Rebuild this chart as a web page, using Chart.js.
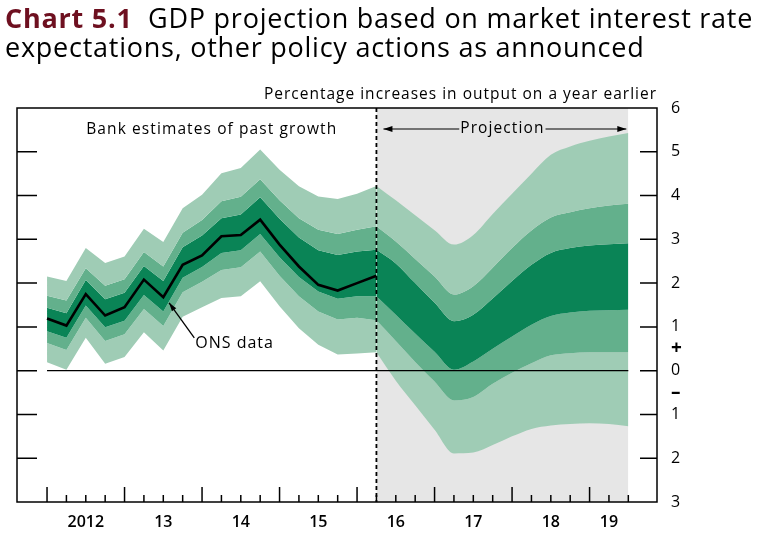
<!DOCTYPE html>
<html>
<head>
<meta charset="utf-8">
<script src="https://cdn.jsdelivr.net/npm/chart.js@4.4.1/dist/chart.umd.min.js"></script>
<style>
  body { margin: 0; background: #fff; }
  #wrap { position: relative; width: 780px; height: 534px; font-family: "Open Sans", sans-serif; }
  #title { position: absolute; left: 5px; top: 3px; font-size: 27px; line-height: 29px; letter-spacing: 0.75px; color: #000; white-space: nowrap; }
  #title b { color: #6e1020; }
  canvas { position: absolute; left: 0; top: 0; }
</style>
</head>
<body>
<div id="wrap">
  <canvas id="fanChart" width="780" height="534"></canvas>
  <div id="title"><b>Chart 5.1</b>&nbsp; GDP projection based on market interest rate<br>expectations, other policy actions as announced</div>
</div>
<script>
// Quarterly positions: 0 = 2012 Q1, one step per quarter
const onsData    = [1.19, 1.03, 1.75, 1.26, 1.45, 2.08, 1.68, 2.42, 2.63, 3.07, 3.10, 3.45, 2.88, 2.38, 1.96, 1.83, 2.00, 2.17];

// Bank estimates of past growth (fan band edges)
const pastTop    = [2.15, 2.05, 2.80, 2.46, 2.61, 3.24, 2.94, 3.71, 4.02, 4.51, 4.63, 5.05, 4.59, 4.21, 3.98, 3.92, 4.04, 4.22];
const pastUpper2 = [1.71, 1.60, 2.34, 1.94, 2.09, 2.71, 2.38, 3.15, 3.44, 3.87, 3.97, 4.37, 3.89, 3.48, 3.22, 3.12, 3.22, 3.30];
const pastUpper1 = [1.44, 1.31, 2.07, 1.63, 1.78, 2.39, 2.05, 2.82, 3.09, 3.48, 3.57, 3.96, 3.47, 3.04, 2.75, 2.64, 2.72, 2.76];
const pastLower1 = [0.90, 0.75, 1.49, 0.99, 1.14, 1.73, 1.35, 2.12, 2.37, 2.69, 2.75, 3.12, 2.59, 2.14, 1.81, 1.64, 1.70, 1.70];
const pastLower2 = [0.63, 0.47, 1.21, 0.68, 0.83, 1.41, 1.02, 1.79, 2.03, 2.30, 2.36, 2.72, 2.17, 1.70, 1.35, 1.17, 1.21, 1.15];
const pastBottom = [0.19, 0.02, 0.75, 0.16, 0.31, 0.88, 0.46, 1.23, 1.45, 1.66, 1.70, 2.04, 1.47, 0.97, 0.59, 0.37, 0.39, 0.42];

// Projection fan (starts at last ONS quarter)
const projTop    = [4.22, 3.89, 3.55, 3.21, 2.88, 3.10, 3.58, 4.04, 4.50, 4.93, 5.12, 5.25, 5.35, 5.43];
const projUpper2 = [3.30, 2.95, 2.55, 2.15, 1.74, 1.93, 2.35, 2.80, 3.20, 3.50, 3.62, 3.71, 3.77, 3.81];
const projUpper1 = [2.76, 2.45, 2.00, 1.55, 1.13, 1.28, 1.65, 2.05, 2.42, 2.69, 2.80, 2.86, 2.89, 2.91];
const projLower1 = [1.70, 1.28, 0.85, 0.43, 0.02, 0.21, 0.50, 0.78, 1.05, 1.25, 1.33, 1.37, 1.38, 1.39];
const projLower2 = [1.15, 0.68, 0.20, -0.25, -0.68, -0.60, -0.30, -0.05, 0.17, 0.35, 0.40, 0.42, 0.42, 0.42];
const projBottom = [0.42, -0.23, -0.79, -1.35, -1.89, -1.87, -1.70, -1.50, -1.33, -1.25, -1.22, -1.20, -1.22, -1.27];

// Axis labels
const yearLabels   = ['2012', '13', '14', '15', '16', '17', '18', '19'];
const yearLabelPos = [2, 6, 10, 14, 18, 22, 26, 29];
const yLabelValues = [6, 5, 4, 3, 2, 1, 0.5, 0, -0.5, -1, -2, -3];
const yLabelText   = ['6', '5', '4', '3', '2', '1', '+', '0', '\u2013', '1', '2', '3'];
const yTickMarks   = [5, 4, 3, 2, 1, 0, -1, -2];

const projectionStart = onsData.length - 1;
const lastQuarter = projectionStart + projTop.length - 1;

const LIGHT = '#9fccb5';
const MEDIUM = '#63b08c';
const DARK = '#0a8456';
const FONT = '"Open Sans", sans-serif';

const toPoints = (vals, start) => vals.map((v, i) => ({ x: start + i, y: v }));

function band(vals, start, color, smooth) {
    return {
        data: toPoints(vals, start),
        borderWidth: 0,
        pointRadius: 0,
        fill: color ? '+1' : false,
        backgroundColor: color || 'transparent',
        cubicInterpolationMode: smooth ? 'monotone' : 'default',
        order: 5
    };
}

const decorPlugin = {
    id: 'decor',
    afterDatasetsDraw(chart) {
        const { ctx, chartArea: a, scales: { x, y } } = chart;
        ctx.save();
        ctx.strokeStyle = '#000';
        ctx.fillStyle = '#000';

        // zero line
        ctx.lineWidth = 1.3;
        ctx.beginPath();
        ctx.moveTo(x.getPixelForValue(0), y.getPixelForValue(0));
        ctx.lineTo(x.getPixelForValue(lastQuarter), y.getPixelForValue(0));
        ctx.stroke();

        // projection divider
        const px = x.getPixelForValue(projectionStart);
        ctx.setLineDash([4, 3]);
        ctx.lineWidth = 1.8;
        ctx.beginPath();
        ctx.moveTo(px, a.top);
        ctx.lineTo(px, a.bottom);
        ctx.stroke();
        ctx.setLineDash([]);

        // frame
        ctx.lineWidth = 1.5;
        ctx.strokeRect(a.left, a.top, a.width, a.height);

        // y tick marks, inward on both sides
        yTickMarks.forEach(v => {
            const py = y.getPixelForValue(v);
            ctx.beginPath();
            ctx.moveTo(a.left, py); ctx.lineTo(a.left + 20, py);
            ctx.moveTo(a.right - 17, py); ctx.lineTo(a.right, py);
            ctx.stroke();
        });

        // quarterly x ticks, longer at year starts
        for (let q = 0; q <= lastQuarter; q++) {
            const qx = x.getPixelForValue(q);
            const len = q % 4 === 0 ? 15 : 7;
            ctx.beginPath();
            ctx.moveTo(qx, a.bottom); ctx.lineTo(qx, a.bottom - len);
            ctx.stroke();
        }

        // texts
        ctx.textBaseline = 'alphabetic';
        ctx.font = '15.5px ' + FONT;
        ctx.letterSpacing = '1px';
        ctx.textAlign = 'right';
        ctx.fillText('Percentage increases in output on a year earlier', a.right, a.top - 9);

        ctx.font = '15.5px ' + FONT;
        ctx.letterSpacing = '1.1px';
        ctx.textAlign = 'center';
        ctx.fillText('Bank estimates of past growth', x.getPixelForValue(8.5), a.top + 26);

        // projection arrow
        const ay = a.top + 21;
        const label = 'Projection';
        const cx = x.getPixelForValue(23.5);
        const half = ctx.measureText(label).width / 2 + 1;
        ctx.textBaseline = 'middle';
        ctx.fillText(label, cx, ay);
        const x0 = px + 7, x1 = x.getPixelForValue(lastQuarter) - 2;
        ctx.lineWidth = 1.2;
        ctx.beginPath();
        ctx.moveTo(x0, ay); ctx.lineTo(cx - half, ay);
        ctx.moveTo(cx + half, ay); ctx.lineTo(x1, ay);
        ctx.stroke();
        [[x0, 1], [x1, -1]].forEach(([hx, d]) => {
            ctx.beginPath();
            ctx.moveTo(hx, ay);
            ctx.lineTo(hx + 9 * d, ay - 3);
            ctx.lineTo(hx + 9 * d, ay + 3);
            ctx.closePath();
            ctx.fill();
        });

        // ONS data label with arrow
        ctx.textBaseline = 'alphabetic';
        ctx.textAlign = 'left';
        ctx.font = '16px ' + FONT;
        ctx.letterSpacing = '1px';
        ctx.fillText('ONS data', x.getPixelForValue(7.65), y.getPixelForValue(0.52));
        ctx.letterSpacing = '0px';
        const tx = x.getPixelForValue(6.3), ty = y.getPixelForValue(1.55);
        const sx = x.getPixelForValue(7.6), sy = y.getPixelForValue(0.75);
        ctx.lineWidth = 1.3;
        ctx.beginPath();
        ctx.moveTo(sx, sy); ctx.lineTo(tx, ty);
        ctx.stroke();
        const ang = Math.atan2(sy - ty, sx - tx);
        ctx.beginPath();
        ctx.moveTo(tx, ty);
        ctx.lineTo(tx + 9 * Math.cos(ang - 0.3), ty + 9 * Math.sin(ang - 0.3));
        ctx.lineTo(tx + 9 * Math.cos(ang + 0.3), ty + 9 * Math.sin(ang + 0.3));
        ctx.closePath();
        ctx.fill();

        ctx.restore();
    }
};

const datasets = [
    {
        // grey projection background
        data: [{ x: projectionStart, y: 6 }, { x: lastQuarter, y: 6 }],
        borderWidth: 0, pointRadius: 0, fill: 'start', backgroundColor: '#e6e6e6', order: 20
    },
    band(pastTop, 0, LIGHT, false),
    band(pastUpper2, 0, MEDIUM, false),
    band(pastUpper1, 0, DARK, false),
    band(pastLower1, 0, MEDIUM, false),
    band(pastLower2, 0, LIGHT, false),
    band(pastBottom, 0, null, false),
    band(projTop, projectionStart, LIGHT, true),
    band(projUpper2, projectionStart, MEDIUM, true),
    band(projUpper1, projectionStart, DARK, true),
    band(projLower1, projectionStart, MEDIUM, true),
    band(projLower2, projectionStart, LIGHT, true),
    band(projBottom, projectionStart, null, true),
    {
        data: toPoints(onsData, 0),
        borderColor: '#000', borderWidth: 2.6, pointRadius: 0, fill: false, order: 0
    }
];

new Chart(document.getElementById('fanChart'), {
    type: 'line',
    data: { datasets: datasets },
    options: {
        responsive: false,
        animation: false,
        layout: { padding: { left: 17, top: 108, right: 0, bottom: 0 } },
        plugins: { legend: { display: false }, tooltip: { enabled: false } },
        elements: { line: { tension: 0 } },
        scales: {
            x: {
                type: 'linear', min: -1.55, max: 31.48,
                grid: { display: false }, border: { display: false },
                afterBuildTicks: axis => { axis.ticks = yearLabelPos.map(v => ({ value: v })); },
                afterFit: axis => { axis.height = 32; },
                ticks: {
                    autoSkip: false, maxRotation: 0, padding: 3, color: '#000',
                    font: { family: FONT, size: 16, weight: '600' },
                    callback: (v, i) => yearLabels[i]
                }
            },
            y: {
                position: 'right', min: -3, max: 6,
                grid: { display: false }, border: { display: false },
                afterBuildTicks: axis => { axis.ticks = yLabelValues.map(v => ({ value: v })); },
                afterFit: axis => { axis.width = 123; },
                ticks: {
                    autoSkip: false, padding: 6, color: '#000',
                    font: c => (c.tick && Math.abs(c.tick.value) === 0.5
                        ? { family: FONT, size: 19, weight: '700' }
                        : { family: FONT, size: 16, weight: '500' }),
                    callback: (v, i) => yLabelText[i]
                }
            }
        }
    },
    plugins: [decorPlugin]
});
</script>
</body>
</html>
